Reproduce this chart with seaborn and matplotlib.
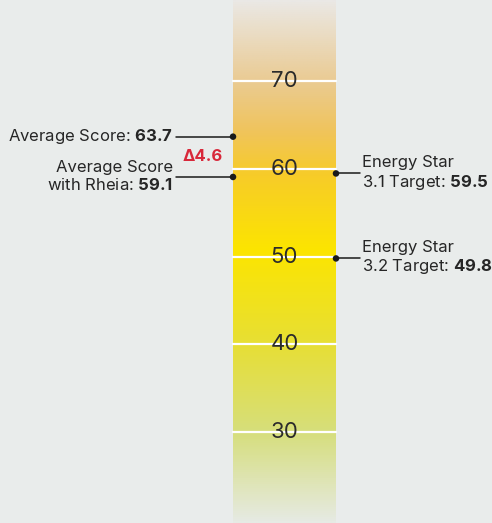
import numpy as np
import pandas as pd
import matplotlib
matplotlib.use("Agg")
import matplotlib.pyplot as plt
from matplotlib.colors import LinearSegmentedColormap
import seaborn as sns

# ---- data ----
tick_values = [30, 40, 50, 60, 70]
left_labels = ["Average Score", "Average Score\nwith Rheia"]
left_values = [63.7, 59.1]
right_labels = ["Energy Star\n3.1 Target", "Energy Star\n3.2 Target"]
right_values = [59.5, 49.8]
delta_label = "Δ4.6"

sns.set_theme(style="white")
plt.rcParams["font.family"] = ["Inter", "DejaVu Sans"]
plt.rcParams["mathtext.fontset"] = "custom"
plt.rcParams["mathtext.rm"] = "Inter"
plt.rcParams["mathtext.bf"] = "Inter:bold"

BG = "#e9eceb"
TXT = "#262626"
YMIN, YMAX = 19.6, 79.3
BAR_L, BAR_R = 233, 336

fig = plt.figure(figsize=(4.92, 5.23), dpi=100, facecolor=BG)
ax = fig.add_axes([0, 0, 1, 1])
ax.set_facecolor(BG)

# gradient bar
stops = [(0.0, "#e6eae4"), (0.172, "#d6de7c"), (0.34, "#e7df35"), (0.522, "#fce500"),
         (0.665, "#f7cc28"), (0.751, "#f0c45c"), (0.847, "#eacb93"), (1.0, "#eae8e5")]
cmap = LinearSegmentedColormap.from_list("grad", stops)
grad = np.linspace(0, 1, 512).reshape(-1, 1)
ax.imshow(grad, extent=[BAR_L, BAR_R, YMIN, YMAX], origin="lower", aspect="auto",
          cmap=cmap, zorder=1)

# tick lines and labels
for v in tick_values:
    ax.plot([BAR_L, BAR_R], [v, v], color="white", lw=1.6, zorder=2)
    ax.text((BAR_L + BAR_R) / 2, v, str(v), ha="center", va="center", fontsize=16,
            fontweight="normal", color="#2b2b2b", zorder=3)

# markers
pts = pd.DataFrame({
    "x": [BAR_L] * len(left_values) + [BAR_R] * len(right_values),
    "y": left_values + right_values,
})
sns.scatterplot(data=pts, x="x", y="y", ax=ax, color="#1a1a1a", s=22, edgecolor="none",
                zorder=5, legend=False)

# left annotations
for lab, v in zip(left_labels, left_values):
    ax.plot([176, BAR_L], [v, v], color="#1a1a1a", lw=1.1, zorder=4)
    ax.text(173, v, lab + r": $\mathbf{" + f"{v}" + "}$", ha="right", va="center",
            multialignment="right", fontsize=12, color=TXT, linespacing=1.15, zorder=4)

# right annotations
for lab, v in zip(right_labels, right_values):
    ax.plot([BAR_R, 360], [v, v], color="#1a1a1a", lw=1.1, zorder=4)
    ax.text(362, v, lab + r": $\mathbf{" + f"{v}" + "}$", ha="left", va="center",
            multialignment="left", fontsize=12, color=TXT, linespacing=1.15, zorder=4)

ax.text(203, (left_values[0] + left_values[1]) / 2, delta_label, ha="center", va="center",
        fontsize=12, fontweight="bold", color="#d8283a", zorder=4)

ax.set_xlim(0, 492)
ax.set_ylim(YMIN, YMAX)
ax.axis("off")
fig.savefig("out.png", dpi=100, facecolor=BG)
